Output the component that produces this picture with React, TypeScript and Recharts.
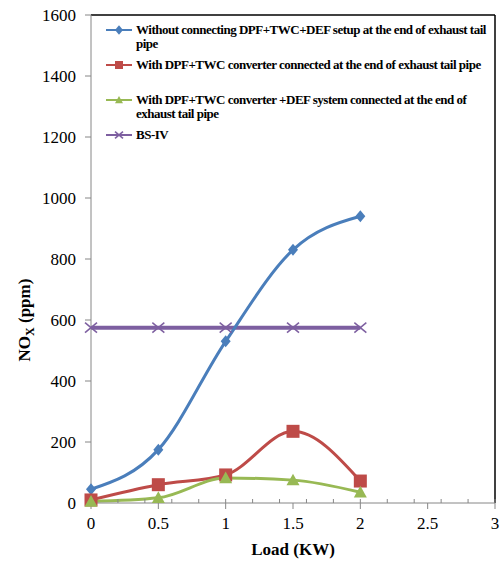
import {
  LineChart,
  Line,
  XAxis,
  YAxis,
  Legend,
  ReferenceLine,
} from 'recharts';

const loads = [0, 0.5, 1, 1.5, 2];
const withoutSetup = [45, 175, 530, 830, 940];
const withDpfTwc = [10, 60, 92, 235, 72];
const withDpfTwcDef = [5, 17, 82, 75, 35];
const bsIv = [575, 575, 575, 575, 575];

const xTicks = [0, 0.5, 1, 1.5, 2, 2.5, 3];
const yTicks = [0, 200, 400, 600, 800, 1000, 1200, 1400, 1600];
const xMinorTicks = Array.from({ length: 31 }, (_, i) => i / 10);
const yMinorTicks = Array.from({ length: 41 }, (_, i) => i * 40);

const seriesNames = [
  'Without connecting DPF+TWC+DEF setup at the end of exhaust tail pipe',
  'With DPF+TWC converter connected at the end of exhaust tail pipe',
  'With DPF+TWC converter +DEF system connected at the end of exhaust tail pipe',
  'BS-IV',
];
// how the legend breaks each name
const legendLines = [
  ['Without connecting DPF+TWC+DEF setup at the end of exhaust tail', 'pipe'],
  ['With DPF+TWC converter connected at the end of exhaust tail pipe'],
  ['With DPF+TWC converter +DEF system connected at the end of', 'exhaust tail pipe'],
  ['BS-IV'],
];

const colors = ['#4A7EBB', '#BE4B48', '#98B954', '#7D5FA0'];
const serif = 'Liberation Serif, Times New Roman, serif';

const chartData = loads.map((load, i) => ({
  load,
  without: withoutSetup[i],
  dpfTwc: withDpfTwc[i],
  dpfTwcDef: withDpfTwcDef[i],
  bsIv: bsIv[i],
}));

const Marker = ({ kind, cx, cy, s }: { kind: number; cx: number; cy: number; s: number }) => {
  const c = colors[kind];
  if (kind === 0) {
    return (
      <polygon
        points={`${cx},${cy - s * 0.6} ${cx + s / 2},${cy} ${cx},${cy + s * 0.6} ${cx - s / 2},${cy}`}
        fill={c}
      />
    );
  }
  if (kind === 1) {
    return <rect x={cx - s / 2} y={cy - s / 2} width={s} height={s} fill={c} />;
  }
  if (kind === 2) {
    return (
      <polygon
        points={`${cx},${cy - s * 0.5} ${cx + s / 2},${cy + s * 0.4} ${cx - s / 2},${cy + s * 0.4}`}
        fill={c}
      />
    );
  }
  return (
    <g stroke={c} strokeWidth={1.5}>
      <line x1={cx - s / 2} y1={cy - s / 2.4} x2={cx + s / 2} y2={cy + s / 2.4} />
      <line x1={cx - s / 2} y1={cy + s / 2.4} x2={cx + s / 2} y2={cy - s / 2.4} />
    </g>
  );
};

const dotFor = (kind: number, size: number) => (props: any) => (
  <Marker key={`${kind}-${props.index}`} kind={kind} cx={props.cx} cy={props.cy} s={size} />
);

const LegendBox = () => (
  <div style={{ fontFamily: serif, fontWeight: 'bold', fontSize: 13, color: '#000' }}>
    {legendLines.map((lines, i) => (
      <div
        key={i}
        style={{ display: 'flex', alignItems: 'flex-start', marginBottom: i === 1 ? 21 : 7, lineHeight: '14px' }}
      >
        <svg width={32} height={14} style={{ flexShrink: 0 }}>
          <line x1={2} y1={7} x2={28} y2={7} stroke={colors[i]} strokeWidth={2} />
          <Marker kind={i} cx={15} cy={7} s={8} />
        </svg>
        <div style={{ whiteSpace: 'nowrap', letterSpacing: -0.5 }}>
          {lines.map((l, j) => (
            <div key={j}>{l}</div>
          ))}
        </div>
      </div>
    ))}
  </div>
);

const YTitle = (props: any) => {
  const { viewBox } = props;
  const x = viewBox.x + 30;
  const y = viewBox.y + 305;
  return (
    <text
      x={x}
      y={y}
      transform={`rotate(-90, ${x}, ${y})`}
      textAnchor='middle'
      fontFamily={serif}
      fontWeight='bold'
      fontSize={17}
      fill='#000'
    >
      NO
      <tspan fontSize={12} dy={4}>X</tspan>
      <tspan dy={-4}>{'  (ppm)'}</tspan>
    </text>
  );
};

const XTick = (props: any) => (
  <text
    x={props.x}
    y={props.y + 14}
    textAnchor='middle'
    fontFamily={serif}
    fontSize={17}
    fill='#000'
  >
    {props.payload.value}
  </text>
);

const YTick = (props: any) => (
  <text
    x={props.x}
    y={props.y + 6}
    textAnchor='end'
    fontFamily={serif}
    fontSize={17}
    fill='#000'
  >
    {props.payload.value}
  </text>
);

export default function App() {
  return (
    <div style={{ position: 'absolute', left: 0, top: 0, background: '#fff' }}>
      <LineChart
        width={502}
        height={571}
        data={chartData}
        margin={{ top: 15, right: 7, left: 0, bottom: 0 }}
      >
        <XAxis
          dataKey='load'
          type='number'
          domain={[0, 3]}
          ticks={xTicks}
          height={68}
          stroke='#868686'
          tickSize={6}
          tickMargin={6}
          tick={<XTick />}
          label={{
            value: 'Load (KW)',
            position: 'insideBottom',
            offset: 16,
            style: { fill: '#000', fontSize: 17, fontWeight: 'bold', fontFamily: serif },
          }}
        />
        <XAxis
          xAxisId='minor'
          dataKey='load'
          type='number'
          domain={[0, 3]}
          ticks={xMinorTicks}
          mirror
          axisLine={false}
          stroke='#868686'
          tickSize={4}
          tick={() => <g />}
        />
        <YAxis
          type='number'
          domain={[0, 1600]}
          ticks={yTicks}
          width={91}
          stroke='#868686'
          tickSize={6}
          tickMargin={9}
          tick={<YTick />}
          label={<YTitle />}
        />
        <YAxis
          yAxisId='minor'
          type='number'
          domain={[0, 1600]}
          ticks={yMinorTicks}
          mirror
          axisLine={false}
          stroke='#868686'
          tickSize={4}
          tick={() => <g />}
        />
        <ReferenceLine y={1600} stroke='#000' strokeWidth={1.5} />
        <ReferenceLine x={3} stroke='#000' strokeWidth={1.5} />
        <Legend
          layout='horizontal'
          verticalAlign='middle'
          align='center'
          content={<LegendBox />}
          wrapperStyle={{ top: 23, left: 104, width: 392 }}
        />
        <Line
          name={seriesNames[3]}
          dataKey='bsIv'
          type='monotone'
          stroke={colors[3]}
          strokeWidth={4}
          dot={dotFor(3, 12)}
          isAnimationActive={false}
        />
        <Line
          name={seriesNames[0]}
          dataKey='without'
          type='monotone'
          stroke={colors[0]}
          strokeWidth={3}
          dot={dotFor(0, 10)}
          isAnimationActive={false}
        />
        <Line
          name={seriesNames[1]}
          dataKey='dpfTwc'
          type='monotone'
          stroke={colors[1]}
          strokeWidth={3}
          dot={dotFor(1, 13)}
          isAnimationActive={false}
        />
        <Line
          name={seriesNames[2]}
          dataKey='dpfTwcDef'
          type='monotone'
          stroke={colors[2]}
          strokeWidth={3}
          dot={dotFor(2, 13)}
          isAnimationActive={false}
        />
      </LineChart>
    </div>
  );
}
